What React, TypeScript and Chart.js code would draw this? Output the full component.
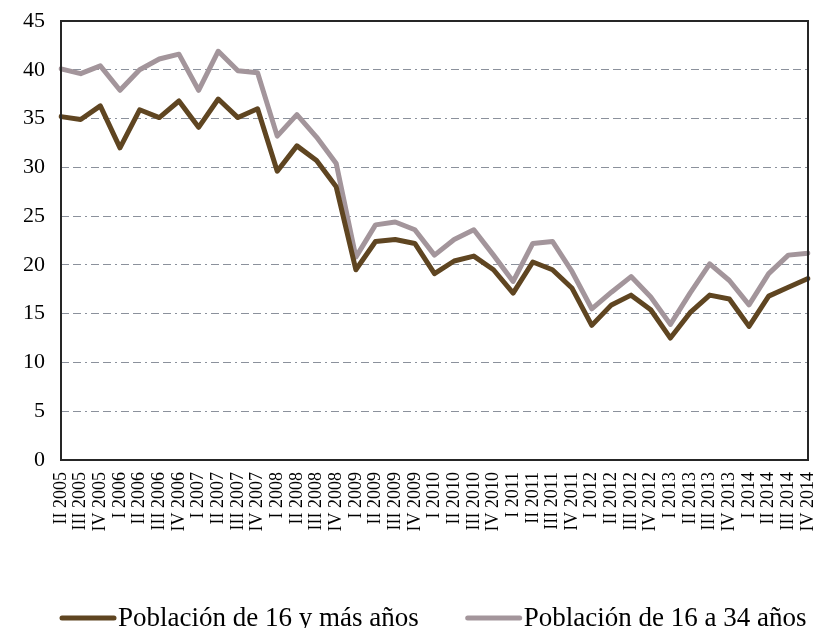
import React, { useEffect, useRef } from "react";
import { Chart, registerables } from "chart.js";

Chart.register(...registerables);

const categories: string[] = [
  "II 2005", "III 2005", "IV 2005",
  "I 2006", "II 2006", "III 2006", "IV 2006",
  "I 2007", "II 2007", "III 2007", "IV 2007",
  "I 2008", "II 2008", "III 2008", "IV 2008",
  "I 2009", "II 2009", "III 2009", "IV 2009",
  "I 2010", "II 2010", "III 2010", "IV 2010",
  "I 2011", "II 2011", "III 2011", "IV 2011",
  "I 2012", "II 2012", "III 2012", "IV 2012",
  "I 2013", "II 2013", "III 2013", "IV 2013",
  "I 2014", "II 2014", "III 2014", "IV 2014",
];

const poblacion16yMas: number[] = [
  35.2, 34.9, 36.3, 32.0, 35.9, 35.1, 36.8, 34.1, 37.0, 35.1, 36.0,
  29.6, 32.2, 30.7, 28.0, 19.5, 22.4, 22.6, 22.2, 19.1, 20.4, 20.9,
  19.5, 17.1, 20.3, 19.5, 17.6, 13.8, 15.9, 16.9, 15.4, 12.5, 15.1,
  16.9, 16.5, 13.7, 16.8, 17.7, 18.6,
];

const poblacion16a34: number[] = [
  40.1, 39.6, 40.4, 37.9, 40.0, 41.1, 41.6, 37.9, 41.9, 39.9, 39.7,
  33.2, 35.4, 33.1, 30.4, 20.8, 24.1, 24.4, 23.6, 21.0, 22.6, 23.6,
  21.0, 18.3, 22.2, 22.4, 19.3, 15.5, 17.2, 18.8, 16.7, 13.9, 17.1,
  20.1, 18.4, 15.9, 19.1, 21.0, 21.2,
];

const seriesNames: string[] = ["Población de 16 y más años", "Población de 16 a 34 años"];
const seriesColors: string[] = ["#5f4521", "#a3959b"];
const yTicks = { min: 0, max: 45, step: 5 };

const SERIF = "'Liberation Serif', 'Times New Roman', serif";

const framePlugin = {
  id: "frame",
  afterDatasetsDraw(chart: any) {
    const { ctx, chartArea } = chart;
    ctx.save();
    ctx.strokeStyle = "#262626";
    ctx.lineWidth = 2;
    ctx.strokeRect(chartArea.left, chartArea.top, chartArea.right - chartArea.left, chartArea.bottom - chartArea.top);
    ctx.restore();
  },
};

const legendPlugin = {
  id: "bottomLegend",
  afterDraw(chart: any) {
    const { ctx } = chart;
    const cy = 618;
    let x = 60;
    ctx.save();
    ctx.font = `27px ${SERIF}`;
    ctx.textBaseline = "middle";
    ctx.textAlign = "left";
    chart.data.datasets.forEach((ds: any) => {
      ctx.strokeStyle = ds.borderColor;
      ctx.lineWidth = 5;
      ctx.lineCap = "round";
      ctx.beginPath();
      ctx.moveTo(x + 2, cy);
      ctx.lineTo(x + 54, cy);
      ctx.stroke();
      ctx.fillStyle = "#000";
      ctx.fillText(ds.label, x + 58, cy + 1);
      x += 58 + ctx.measureText(ds.label).width + 47;
    });
    ctx.restore();
  },
};

export default function App() {
  const ref = useRef<HTMLCanvasElement | null>(null);

  useEffect(() => {
    if (!ref.current) return;
    const chart = new Chart(ref.current, {
      type: "line",
      data: {
        labels: categories,
        datasets: [
          {
            label: seriesNames[0],
            data: poblacion16yMas,
            borderColor: seriesColors[0],
            backgroundColor: seriesColors[0],
            borderWidth: 5,
            pointRadius: 0,
            tension: 0,
            borderJoinStyle: "round",
            borderCapStyle: "round",
          },
          {
            label: seriesNames[1],
            data: poblacion16a34,
            borderColor: seriesColors[1],
            backgroundColor: seriesColors[1],
            borderWidth: 5,
            pointRadius: 0,
            tension: 0,
            borderJoinStyle: "round",
            borderCapStyle: "round",
          },
        ],
      },
      options: {
        animation: false,
        responsive: false,
        devicePixelRatio: 1,
        layout: { padding: { left: 0, right: 5, top: 21, bottom: 70 } },
        plugins: {
          tooltip: { enabled: false },
          legend: { display: false },
        },
        scales: {
          x: {
            offset: false,
            grid: { display: false, drawTicks: false },
            border: { display: false },
            ticks: {
              autoSkip: false,
              minRotation: 90,
              maxRotation: 90,
              padding: 12,
              color: "#000",
              font: { family: SERIF, size: 18 },
            },
            afterFit(scale: any) {
              scale.height = 98;
              scale.paddingLeft = 0;
              scale.paddingRight = 0;
            },
          },
          y: {
            min: yTicks.min,
            max: yTicks.max,
            grid: {
              color: "#8b919c",
              lineWidth: 1,
              drawTicks: false,
            },
            border: { display: false, dash: [8, 4, 8, 4, 2, 4] },
            ticks: {
              stepSize: yTicks.step,
              padding: 16,
              color: "#000",
              font: { family: SERIF, size: 22 },
            },
            afterFit(scale: any) {
              scale.width = 61;
              scale.paddingTop = 0;
              scale.paddingBottom = 0;
            },
          },
        },
      },
      plugins: [framePlugin, legendPlugin],
    });
    return () => chart.destroy();
  }, []);

  return (
    <div style={{ position: "fixed", left: 0, top: 0, width: 813, height: 628, background: "#fff" }}>
      <canvas ref={ref} width={813} height={628} style={{ display: "block", width: 813, height: 628 }} />
    </div>
  );
}
